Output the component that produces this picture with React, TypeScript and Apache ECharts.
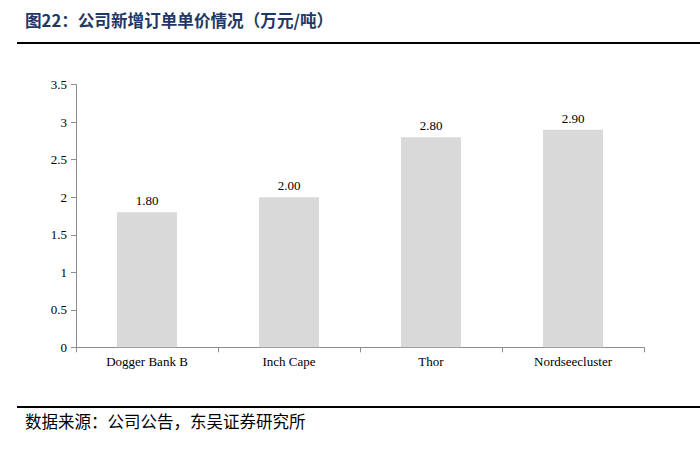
import React, { useEffect, useRef } from "react";
import * as echarts from "echarts";

const categories = ["Dogger Bank B", "Inch Cape", "Thor", "Nordseecluster"];
const prices = [1.8, 2.0, 2.8, 2.9];
const titleText = "图22：公司新增订单单价情况（万元/吨）";
const sourceText = "数据来源：公司公告，东吴证券研究所";

export default function App() {
  const ref = useRef<HTMLDivElement>(null);
  useEffect(() => {
    const chart = echarts.init(ref.current!, null, { renderer: "svg" });
    const serif = "'Liberation Serif', 'Times New Roman', serif";
    chart.setOption({
      animation: false,
      backgroundColor: "#ffffff",
      grid: { left: 76, right: 56, top: 84.7, bottom: 103.7 },
      xAxis: {
        type: "category",
        data: categories,
        axisLine: { lineStyle: { color: "#8c8c8c", width: 1 } },
        axisTick: { show: true, alignWithLabel: false, length: 5, lineStyle: { color: "#8c8c8c" } },
        axisLabel: { color: "#000", fontFamily: serif, fontSize: 13, margin: 8 },
      },
      yAxis: {
        type: "value",
        min: 0,
        max: 3.5,
        interval: 0.5,
        axisLine: { show: true, lineStyle: { color: "#8c8c8c", width: 1 } },
        axisTick: { show: true, length: 5, lineStyle: { color: "#8c8c8c" } },
        splitLine: { show: false },
        axisLabel: { color: "#000", fontFamily: serif, fontSize: 13, margin: 9 },
      },
      series: [
        {
          type: "bar",
          data: prices,
          barWidth: 60,
          itemStyle: { color: "#d9d9d9" },
          label: {
            show: true,
            position: "top",
            distance: 5,
            color: "#000",
            fontFamily: serif,
            fontSize: 13,
            formatter: (p: any) => Number(p.value).toFixed(2),
          },
        },
      ],
      graphic: [
        {
          type: "text",
          left: 25,
          top: 12,
          style: {
            text: titleText,
            fill: "#1f3864",
            font: "bold 16.6px 'Noto Sans CJK SC', sans-serif",
          },
        },
        {
          type: "rect",
          shape: { x: 17, y: 42, width: 683, height: 2 },
          style: { fill: "#000" },
        },
        {
          type: "rect",
          shape: { x: 17, y: 406, width: 683, height: 2 },
          style: { fill: "#000" },
        },
        {
          type: "text",
          left: 25,
          top: 413,
          style: {
            text: sourceText,
            fill: "#000",
            font: "16.5px 'Noto Sans CJK SC', sans-serif",
          },
        },
      ],
    });
    return () => chart.dispose();
  }, []);
  return <div ref={ref} style={{ width: 700, height: 451, position: "absolute", left: 0, top: 0 }} />;
}
